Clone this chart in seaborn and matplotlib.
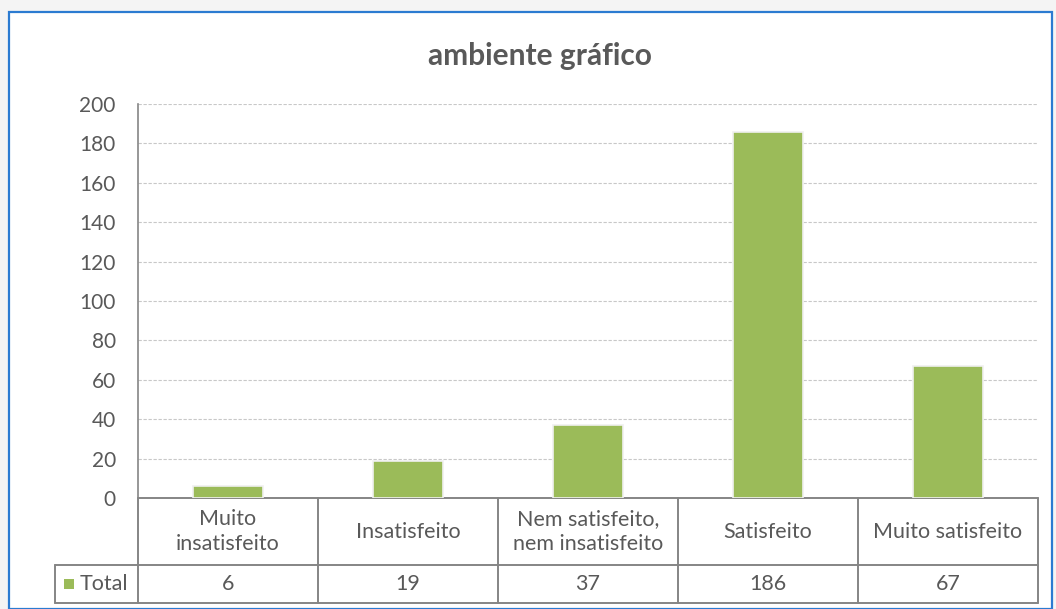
import numpy as np
import pandas as pd
import seaborn as sns
import matplotlib.pyplot as plt
from matplotlib.patches import Rectangle
from matplotlib.lines import Line2D

# chart data
categories = ['Muito\ninsatisfeito', 'Insatisfeito', 'Nem satisfeito,\nnem insatisfeito',
              'Satisfeito', 'Muito satisfeito']
totals = [6, 19, 37, 186, 67]
series_name = 'Total'
title = 'ambiente gráfico'
y_ticks = list(range(0, 201, 20))

bar_color = '#9bbb59'
text_color = '#595959'
line_color = '#858585'

df = pd.DataFrame({'cat': categories, 'total': totals})

sns.set_theme(style='white')
plt.rcParams['font.family'] = ['Lato', 'DejaVu Sans']

fig = plt.figure(figsize=(10.56, 6.09), dpi=100, facecolor='#f4f4f4')
# white chart area with blue frame
frame = Rectangle((9 / 1056, 0), 1043 / 1056, 597 / 609, transform=fig.transFigure,
                  facecolor='white', edgecolor='#2b7bd1', linewidth=1.6, zorder=-10)
fig.patches.append(frame)

ax = fig.add_axes([138 / 1056, 1 - 498 / 609, 900 / 1056, 394 / 609])
ax.set_facecolor('none')

sns.barplot(data=df, x='cat', y='total', color=bar_color, width=0.39, saturation=1,
            ax=ax, zorder=3)
for p in ax.patches:
    p.set_edgecolor('#f0f0f0')
    p.set_linewidth(1.2)

ax.set_xlim(-0.5, len(categories) - 0.5)
ax.set_ylim(0, 200)
ax.set_yticks(y_ticks)
ax.set_yticklabels([str(t) for t in y_ticks], fontsize=15, color=text_color)
ax.tick_params(axis='y', length=0, pad=16)
ax.set_xticks([])
ax.set_xlabel('')
ax.set_ylabel('')
ax.grid(axis='y', color='#c8c8c8', linestyle=(0, (3, 1.5)), linewidth=0.8, zorder=0)
for s in ['top', 'right', 'bottom']:
    ax.spines[s].set_visible(False)
ax.spines['left'].set_color(line_color)
ax.spines['left'].set_linewidth(1.2)

fig.text(540 / 1056, 1 - 56 / 609, title, ha='center', va='center', fontsize=21.5,
         fontweight='bold', color=text_color)

# data table below the axes
r1 = -67 / 394
r2 = -105 / 394
lx = -83 / 900
n = len(categories)
tr = ax.transAxes
lw = 1.4
kw = dict(color=line_color, linewidth=lw, transform=tr, clip_on=False)
ax.add_line(Line2D([0, 1], [0, 0], **kw))
ax.add_line(Line2D([lx, 1], [r1, r1], **kw))
ax.add_line(Line2D([lx, 1], [r2, r2], **kw))
ax.add_line(Line2D([lx, lx], [r1, r2], **kw))
for i in range(n + 1):
    ax.add_line(Line2D([i / n, i / n], [0, r2], **kw))

fs = 15.5
for i, (c, v) in enumerate(zip(categories, totals)):
    xc = (i + 0.5) / n
    ax.text(xc, r1 / 2, c, transform=tr, ha='center', va='center', fontsize=fs,
            color=text_color, linespacing=1.35)
    ax.text(xc, (r1 + r2) / 2, str(v), transform=tr, ha='center', va='center',
            fontsize=fs, color=text_color)

ax.add_patch(Rectangle((-74 / 900, (r1 + r2) / 2 - 5 / 394), 10 / 900, 10 / 394, transform=tr,
                       facecolor=bar_color, edgecolor='none', clip_on=False))
ax.text(-58 / 900, (r1 + r2) / 2, series_name, transform=tr, ha='left', va='center',
        fontsize=fs, color=text_color)

fig.savefig('out.png', dpi=100, facecolor=fig.get_facecolor())
